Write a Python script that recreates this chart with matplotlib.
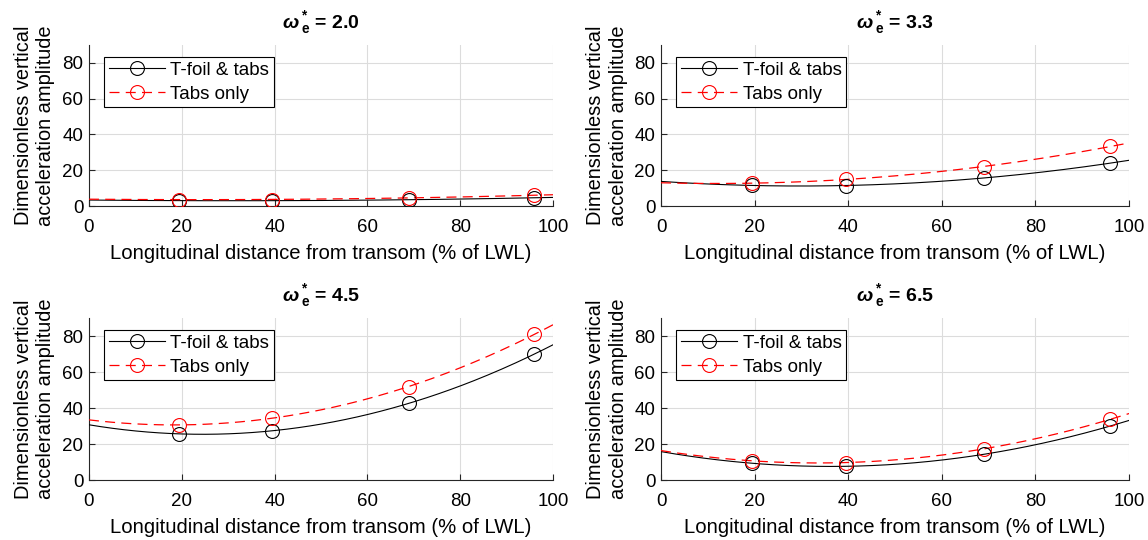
import numpy as np
import matplotlib
matplotlib.use("Agg")
import matplotlib.pyplot as plt
from matplotlib.lines import Line2D

plt.rcParams["font.family"] = ["Liberation Sans", "DejaVu Sans"]
plt.rcParams["mathtext.fontset"] = "custom"
plt.rcParams["mathtext.rm"] = "Liberation Sans:bold"
plt.rcParams["mathtext.it"] = "Liberation Sans:italic:bold"
plt.rcParams["mathtext.bf"] = "Liberation Sans:bold"

# ---------------------------------------------------------------------------
# data
# ---------------------------------------------------------------------------
x_pos = [19.5, 39.5, 69.0, 96.0]          # % of LWL from transom
freqs = ["2.0", "3.3", "4.5", "6.5"]       # omega_e* of each panel

tfoil_20 = [3.0, 3.0, 3.5, 4.6]
tabs_20 = [3.6, 3.6, 4.6, 6.0]
tfoil_33 = [11.6, 11.2, 15.9, 23.9]
tabs_33 = [12.7, 15.0, 22.0, 33.3]
tfoil_45 = [25.6, 27.4, 42.6, 70.0]
tabs_45 = [30.5, 34.6, 51.8, 81.0]
tfoil_65 = [9.3, 7.6, 14.3, 30.0]
tabs_65 = [10.7, 9.6, 17.4, 33.7]

tfoil_all = [tfoil_20, tfoil_33, tfoil_45, tfoil_65]
tabs_all = [tabs_20, tabs_33, tabs_45, tabs_65]

x_ticks = [0, 20, 40, 60, 80, 100]
y_ticks = [0, 20, 40, 60, 80]

# ---------------------------------------------------------------------------
# figure
# ---------------------------------------------------------------------------
fig = plt.figure(figsize=(11.48, 5.40), dpi=100)
boxes = [
    [0.0775, 0.6185, 0.4042, 0.2981],
    [0.5758, 0.6185, 0.4077, 0.2981],
    [0.0775, 0.1111, 0.4042, 0.3000],
    [0.5758, 0.1111, 0.4077, 0.3000],
]

xs = np.linspace(0, 100, 200)

for box, f, tf, tb in zip(boxes, freqs, tfoil_all, tabs_all):
    ax = fig.add_axes(box)

    # quadratic trend through the measured points
    c_tf = np.polyfit(x_pos, tf, 2)
    c_tb = np.polyfit(x_pos, tb, 2)
    ax.plot(xs, np.polyval(c_tf, xs), color="black", lw=0.8, zorder=3)
    ax.plot(xs, np.polyval(c_tb, xs), color="red", lw=0.9,
            dashes=(8, 5), zorder=3)
    ax.plot(x_pos, tf, "o", ms=10, mfc="none", mec="black", mew=0.8, zorder=4)
    ax.plot(x_pos, tb, "o", ms=10, mfc="none", mec="red", mew=0.8, zorder=4)

    ax.set_xlim(0, 100)
    ax.set_ylim(0, 90)
    ax.set_xticks(x_ticks)
    ax.set_yticks(y_ticks)
    ax.grid(True, color="#dcdcdc", lw=0.8)
    ax.set_axisbelow(True)
    ax.spines["top"].set_visible(False)
    ax.spines["right"].set_visible(False)
    ax.tick_params(direction="in", labelsize=13.5, length=4, width=0.8,
                   colors="#262626", labelcolor="black", pad=4)
    ax.tick_params(axis="x", pad=9)
    for s in ("left", "bottom"):
        ax.spines[s].set_color("#262626")
        ax.spines[s].set_linewidth(0.8)

    ax.set_xlabel("Longitudinal distance from transom (% of LWL)",
                  fontsize=14.6, labelpad=6)
    ax.set_ylabel("Dimensionless vertical\nacceleration amplitude",
                  fontsize=14.4, labelpad=5, linespacing=1.25)
    ax.set_title(r"$\omega\,{}^{*}_{\mathbf{e}}$ = " + f, fontsize=14,
                 fontweight="bold", pad=12)

    handles = [
        Line2D([], [], color="black", lw=0.8, marker="o", ms=10,
               mfc="none", mec="black", mew=0.8),
        Line2D([], [], color="red", lw=0.9, dashes=(8, 5), marker="o",
               ms=10, mfc="none", mec="red", mew=0.8),
    ]
    leg = ax.legend(handles, ["T-foil & tabs", "Tabs only"], loc="upper left",
                    bbox_to_anchor=(0.02, 0.96), fontsize=13.5, frameon=True,
                    fancybox=False, edgecolor="black", framealpha=1,
                    handlelength=3.0, borderpad=0.25, labelspacing=0.35,
                    handletextpad=0.3, borderaxespad=0.3)
    leg.get_frame().set_linewidth(0.8)

fig.savefig("out.png", dpi=100)
